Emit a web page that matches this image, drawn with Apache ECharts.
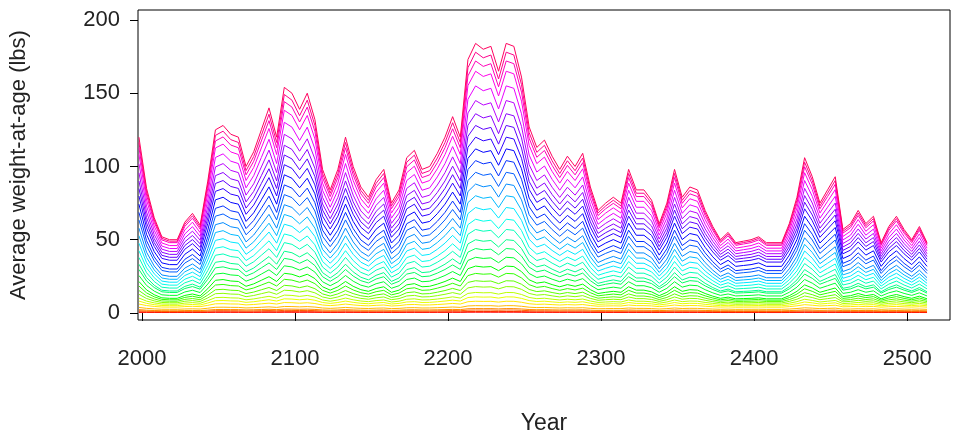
<!DOCTYPE html>
<html><head><meta charset="utf-8">
<script src="https://cdn.jsdelivr.net/npm/echarts@6/dist/echarts.min.js"></script>
<style>body{margin:0;background:#fff}#c{width:953px;height:440px}</style>
</head><body><div id="c"></div>
<script>
// shape of the oldest age line, read every 5 years
const years = [];
for (let y = 1998; y <= 2515; y += 5) years.push(y);
const profile = [120,85,65,52,50,50,62,68,60,90,125,128,122,120,100,110,125,140,120,154,150,139,150,132,
  98,84,98,120,100,86,79,91,98,75,84,106,111,98,100,109,120,134,120,173,184,180,182,165,184,182,161,127,
  113,118,107,98,107,100,109,86,70,75,79,75,98,84,84,77,61,75,98,79,86,84,70,59,50,55,48,49,50,52,48,48,
  48,61,79,106,93,75,84,93,57,61,70,61,66,48,59,66,57,50,59,48];
// per-age levels at the peak (2220) and the trough (2020), youngest first
const peakVals = [0.5,1,2,3,5,8,11,14,18,22,27,32,38,44,50,57,64,72,80,88,96,104,112,120,128,136,145,155,165,172,178,184];
const lowVals = [0.3,0.6,1,1.5,2.5,4,5,6,7,8,9,10,12,14,15,17,19,21,23,25,28,30,33,36,38,40,42,44,46,48,49,50];
const xTicks = [2000,2100,2200,2300,2400,2500];
const yTicks = [0,50,100,150,200];

const pMin = 50, pMax = 184;
const n = peakVals.length;
const series = peakVals.map((pk, i) => ({
  type: 'line', symbol: 'none', animation: false,
  lineStyle: { width: 1, color: 'hsl(' + (i * 360 / (n + 1)) + ',100%,50%)' },
  data: years.map((yr, j) => {
    const idx = j < profile.length ? j : profile.length - 1;
    return [yr, lowVals[i] + (profile[idx] - pMin) / (pMax - pMin) * (pk - lowVals[i])];
  })
}));

const chart = echarts.init(document.getElementById('c'));
const font = 'Liberation Sans, Arial, sans-serif';
chart.setOption({
  grid: { left: 133, right: 3, top: 10, bottom: 120, show: true, borderColor: '#000', borderWidth: 1 },
  xAxis: {
    type: 'value', min: 1997.4, max: 2528, name: 'Year', nameLocation: 'middle', nameGap: 92,
    nameTextStyle: { fontSize: 23, color: '#222', fontFamily: font },
    splitLine: { show: false }, axisLine: { show: false },
    axisTick: { show: true, length: 8, customValues: xTicks, lineStyle: { color: '#000' } },
    axisLabel: { customValues: xTicks, fontSize: 22, color: '#222', margin: 28, fontFamily: font, formatter: v => String(v) }
  },
  yAxis: {
    type: 'value', min: -4.8, max: 206.8, name: 'Average weight-at-age (lbs)', nameLocation: 'middle', nameGap: 108,
    nameTextStyle: { fontSize: 22, color: '#222', fontFamily: font },
    splitLine: { show: false }, axisLine: { show: false },
    axisTick: { show: true, length: 8, customValues: yTicks, lineStyle: { color: '#000' } },
    axisLabel: { customValues: yTicks, fontSize: 22, color: '#222', margin: 18, fontFamily: font, formatter: v => String(v) }
  },
  series: series
});
</script></body></html>
